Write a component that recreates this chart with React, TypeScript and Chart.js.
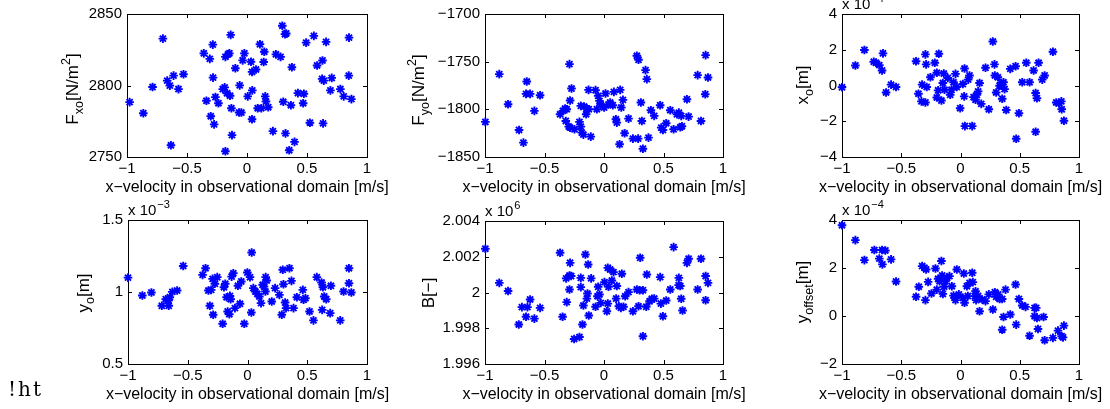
import React, { useEffect, useRef } from 'react';
import { Chart, registerables } from 'chart.js';

Chart.register(...registerables);

const SANS = '"Liberation Sans", Arial, Helvetica, sans-serif';
const BLUE = '#0000ff';

const X_TICKS = [-1, -0.5, 0, 0.5, 1];
const X_TITLE = 'x−velocity in observational domain [m/s]';

// Panel 1: F_xo [N/m^2]
const X_FXO = [-0.978, -0.864, -0.787, -0.701, -0.665, -0.643, -0.612, -0.634, -0.571, -0.529, -0.36, -0.338, -0.31, -0.302, -0.285, -0.283, -0.274, -0.263, -0.238, -0.202, -0.186, -0.18, -0.18, -0.166, -0.147, -0.141, -0.136, -0.13, -0.125, -0.097, -0.066, -0.061, -0.047, -0.036, -0.022, 0.006, 0.033, 0.042, 0.044, 0.042, 0.075, 0.089, 0.108, 0.119, 0.139, 0.144, 0.152, 0.158, 0.177, 0.216, 0.241, 0.28, 0.294, 0.302, 0.316, 0.327, 0.321, 0.352, 0.366, 0.374, 0.396, 0.424, 0.474, 0.468, 0.493, 0.524, 0.557, 0.584, 0.629, 0.634, 0.659, 0.626, 0.64, 0.695, 0.706, 0.778, 0.806, 0.85, 0.848, 0.87, -0.158];
const FXO = [2788.4, 2780.6, 2798.9, 2832.8, 2803.4, 2799.9, 2806.9, 2758.2, 2797.5, 2807.9, 2822.5, 2789.3, 2818.6, 2778.5, 2828.6, 2805.5, 2772.8, 2791.9, 2787.6, 2797.5, 2798.7, 2820.0, 2754.0, 2794.6, 2822.5, 2792.8, 2835.4, 2784.1, 2765.3, 2812.1, 2781.1, 2800.1, 2781.1, 2817.6, 2822.5, 2792.4, 2816.6, 2809.5, 2796.6, 2776.4, 2811.2, 2784.1, 2828.8, 2784.1, 2816.4, 2823.6, 2792.4, 2788.8, 2784.8, 2768.1, 2821.8, 2820.0, 2841.8, 2788.6, 2835.9, 2836.4, 2766.5, 2754.7, 2786.2, 2812.8, 2760.6, 2794.7, 2794.2, 2787.6, 2830.0, 2774.0, 2834.7, 2814.0, 2817.5, 2773.5, 2830.5, 2804.6, 2803.4, 2796.6, 2805.3, 2797.5, 2792.4, 2833.5, 2806.9, 2790.5, 2821.8];
const FXO_TICKS = [2750, 2800, 2850];

// Panel 2: F_yo [N/m^2]
const X_FYO = [-0.997, -0.88, -0.806, -0.714, -0.677, -0.649, -0.655, -0.621, -0.537, -0.585, -0.29, -0.273, -0.285, -0.369, -0.346, -0.327, -0.313, -0.321, -0.296, -0.285, -0.248, -0.206, -0.195, -0.187, -0.173, -0.195, -0.167, -0.144, -0.15, -0.128, -0.111, -0.13, -0.071, -0.049, -0.038, -0.06, -0.027, 0.001, 0.013, 0.038, 0.052, 0.074, 0.083, 0.1, 0.108, 0.131, 0.136, 0.145, 0.159, 0.173, 0.206, 0.243, 0.276, 0.29, 0.349, 0.36, 0.287, 0.31, 0.318, 0.327, 0.374, 0.394, 0.422, 0.472, 0.481, 0.495, 0.523, 0.557, 0.585, 0.613, 0.629, 0.641, 0.655, 0.649, 0.711, 0.697, 0.787, 0.815, 0.854, 0.851, 0.874];
const FYO = [-1813.2, -1763.1, -1794.6, -1821.6, -1834.9, -1770.8, -1783.8, -1783.8, -1785.2, -1801.6, -1752.6, -1778.2, -1790.8, -1805.2, -1801.6, -1799.2, -1799.9, -1812.2, -1818.1, -1819.2, -1820.9, -1813.2, -1818.1, -1824.4, -1826.5, -1796.4, -1797.1, -1799.2, -1805.2, -1799.9, -1828.6, -1779.6, -1779.9, -1785.9, -1791.1, -1799.9, -1795.0, -1798.1, -1783.4, -1795.0, -1792.9, -1795.7, -1781.7, -1810.4, -1813.9, -1836.7, -1779.6, -1798.1, -1790.1, -1825.1, -1809.7, -1830.7, -1743.8, -1748.0, -1758.9, -1768.3, -1830.7, -1792.9, -1812.2, -1841.3, -1829.7, -1800.9, -1806.9, -1795.7, -1819.2, -1821.6, -1814.6, -1800.9, -1820.9, -1805.2, -1803.5, -1818.8, -1817.7, -1806.9, -1807.6, -1789.4, -1764.1, -1812.2, -1743.1, -1784.1, -1766.6];
const FYO_TICKS = [-1850, -1800, -1750, -1700];

// Panel 3: x_o [m]  (scaled by 10^-4)
const X_XO = [-1.0, -0.887, -0.811, -0.732, -0.713, -0.685, -0.662, -0.654, -0.628, -0.586, -0.544, -0.375, -0.355, -0.324, -0.33, -0.296, -0.29, -0.285, -0.296, -0.254, -0.217, -0.2, -0.183, -0.2, -0.189, -0.161, -0.149, -0.141, -0.135, -0.107, -0.087, -0.076, -0.059, -0.042, -0.031, -0.003, 0.02, 0.031, 0.034, 0.037, 0.065, 0.076, 0.099, 0.11, 0.127, 0.138, 0.149, 0.161, 0.175, 0.211, 0.239, 0.273, 0.287, 0.29, 0.301, 0.315, 0.33, 0.344, 0.352, 0.363, 0.372, 0.386, 0.42, 0.465, 0.493, 0.47, 0.521, 0.555, 0.583, 0.617, 0.634, 0.645, 0.634, 0.659, 0.69, 0.71, 0.78, 0.808, 0.851, 0.854, 0.873, 0.831];
const XO = [-0.1, 1.12, 1.99, 1.33, 1.27, 1.14, 0.84, 1.8, -0.39, 0.05, -0.08, 1.36, -0.46, 0.05, -0.89, 1.74, 1.18, -0.08, -0.95, 0.46, 1.27, -0.67, 1.78, 0.71, -0.27, -0.84, 0.14, 0.67, -0.24, 0.42, -0.52, -0.24, 0.18, 0.65, -0.08, -1.27, 0.08, -0.61, 0.95, -2.27, 0.33, 0.56, -2.27, -0.65, -0.8, -0.52, -0.33, 0.14, -1.03, 0.99, -1.33, 2.46, 1.18, 0.56, -0.39, 0.46, -0.01, 0.14, -0.74, 0.18, -0.2, -1.37, 0.93, 1.08, -1.55, -2.98, 0.18, 1.27, 0.18, 0.84, -0.42, -0.71, -2.59, 1.27, 0.33, 0.56, 1.89, -0.95, -0.89, -1.33, -1.97, -0.99];
const XO_TICKS = [-4, -2, 0, 2, 4];
const XO_EXP = '−4';

// Panel 4: y_o [m]  (scaled by 10^-3)
const X_YO = [-1.0, -0.88, -0.804, -0.717, -0.684, -0.662, -0.659, -0.65, -0.629, -0.589, -0.538, -0.376, -0.351, -0.327, -0.315, -0.304, -0.287, -0.292, -0.273, -0.253, -0.208, -0.197, -0.186, -0.175, -0.166, -0.152, -0.147, -0.141, -0.133, -0.119, -0.105, -0.08, -0.063, -0.052, -0.027, -0.001, 0.021, 0.035, 0.032, 0.049, 0.066, 0.082, 0.099, 0.113, 0.127, 0.138, 0.152, 0.161, 0.15, 0.203, 0.231, 0.267, 0.287, 0.295, 0.301, 0.315, 0.323, 0.351, 0.368, 0.385, 0.413, 0.463, 0.469, 0.485, 0.519, 0.552, 0.58, 0.62, 0.631, 0.625, 0.642, 0.659, 0.698, 0.692, 0.776, 0.804, 0.849, 0.849, 0.869];
const YO = [1.1, 0.976, 0.997, 0.904, 0.95, 0.941, 0.904, 0.964, 1.001, 1.01, 1.181, 1.119, 1.165, 1.01, 0.904, 1.015, 0.842, 1.091, 1.057, 1.103, 0.779, 1.033, 1.057, 0.964, 0.865, 0.846, 0.973, 0.95, 1.107, 1.13, 0.888, 1.043, 0.918, 1.073, 0.779, 1.135, 1.103, 1.274, 0.858, 1.027, 1.003, 0.987, 0.969, 0.923, 1.05, 1.038, 1.103, 1.08, 1.003, 0.934, 1.027, 0.98, 0.842, 1.154, 1.054, 0.927, 0.888, 1.165, 1.077, 0.888, 0.964, 1.015, 0.946, 0.957, 0.865, 0.803, 1.103, 1.066, 1.033, 0.876, 0.969, 0.95, 1.043, 0.853, 0.803, 1.003, 1.165, 1.061, 0.997];
const YO_TICKS = [0.5, 1, 1.5];
const YO_EXP = '−3';

// Panel 5: B [-]  (scaled by 10^6)
const X_B = [-0.997, -0.88, -0.806, -0.716, -0.69, -0.655, -0.643, -0.621, -0.585, -0.537, -0.369, -0.348, -0.318, -0.313, -0.29, -0.285, -0.29, -0.276, -0.251, -0.206, -0.195, -0.195, -0.181, -0.173, -0.156, -0.144, -0.133, -0.139, -0.128, -0.108, -0.071, -0.055, -0.049, -0.038, -0.027, 0.004, 0.024, 0.032, 0.038, 0.032, 0.052, 0.066, 0.08, 0.108, 0.102, 0.125, 0.142, 0.15, 0.164, 0.178, 0.206, 0.243, 0.276, 0.29, 0.304, 0.299, 0.327, 0.327, 0.355, 0.36, 0.383, 0.402, 0.422, 0.472, 0.478, 0.495, 0.523, 0.557, 0.585, 0.629, 0.627, 0.641, 0.649, 0.66, 0.697, 0.711, 0.787, 0.815, 0.854, 0.854, 0.874];
const B = [2.00245, 2.00054, 2.00008, 1.99821, 1.99918, 1.99864, 1.99918, 1.99961, 1.99854, 1.99914, 2.00222, 1.99864, 2.00079, 1.99946, 2.00095, 2.00166, 2.00017, 2.00092, 1.9974, 1.99751, 2.00082, 2.0003, 1.99821, 1.99927, 2.00213, 1.99966, 2.00157, 1.99994, 1.99871, 2.00079, 1.9992, 1.99979, 2.00032, 1.99989, 1.99942, 2.00058, 1.99895, 2.00138, 2.00032, 1.99938, 2.00129, 2.00067, 2.00114, 2.00036, 1.99966, 1.99923, 1.99914, 2.00105, 1.9992, 1.99979, 2.00002, 1.99895, 2.00017, 1.99923, 2.00194, 2.00013, 2.00013, 1.99755, 1.9992, 2.00101, 1.99951, 1.99965, 1.99966, 2.00086, 1.99938, 1.99867, 1.99955, 2.00017, 2.00254, 2.00082, 2.00041, 2.00036, 1.99965, 1.99899, 2.00166, 2.00189, 2.00017, 2.00189, 2.00092, 1.99957, 2.00054];
const B_TICKS = [1.996, 1.998, 2, 2.002, 2.004];
const B_EXP = '6';

// Panel 6: y_offset [m]  (scaled by 10^-4)
const X_YOFF = [-1.0, -0.887, -0.811, -0.727, -0.685, -0.662, -0.634, -0.659, -0.586, -0.544, -0.375, -0.352, -0.324, -0.304, -0.29, -0.296, -0.273, -0.245, -0.211, -0.2, -0.189, -0.177, -0.161, -0.155, -0.149, -0.138, -0.127, -0.115, -0.093, -0.073, -0.059, -0.048, -0.042, -0.031, -0.014, 0.02, 0.028, 0.034, 0.054, 0.062, 0.076, 0.099, 0.104, 0.121, 0.127, 0.132, 0.149, 0.161, 0.183, 0.211, 0.239, 0.273, 0.29, 0.301, 0.318, 0.33, 0.352, 0.38, 0.363, 0.352, 0.42, 0.465, 0.47, 0.493, 0.521, 0.549, 0.583, 0.625, 0.639, 0.625, 0.645, 0.654, 0.701, 0.71, 0.78, 0.823, 0.854, 0.865, 0.873];
const YOFF = [3.78, 3.16, 2.33, 2.75, 2.39, 2.75, 2.73, 2.15, 2.36, 1.44, 0.8, 1.22, 2.08, 2.01, 1.94, 0.66, 1.42, 0.94, 1.98, 1.1, 1.55, 1.45, 2.29, 1.69, 0.92, 1.22, 1.45, 1.59, 1.66, 1.24, 0.85, 0.76, 0.66, 1.94, 0.9, 0.76, 1.77, 0.55, 1.24, 0.83, 1.38, 1.8, 1.41, 0.83, 1.03, 0.66, 0.83, 0.2, 0.69, 0.62, 0.9, 0.27, 0.99, 0.8, 0.9, 0.71, 0.71, 1.1, -0.04, -0.57, 0.06, 1.31, -0.36, 0.71, 0.44, 0.38, -0.82, 0.34, 0.34, -0.01, -0.08, -0.54, -0.04, -1.01, -0.91, -0.61, -0.84, -0.89, -0.4];
const YOFF_TICKS = [-2, 0, 2, 4];
const YOFF_EXP = '−4';

type Part = { t: string; k?: 'sub' | 'sup' };
type PanelDef = {
  xs: number[];
  ys: number[];
  yTicks: number[];
  label: Part[];
  exp: string | null;
  box: { L: number; T: number; R: number; B: number };
  labelDX: number;
  labelCY: number;
};

const PANELS: PanelDef[] = [
  { xs: X_FXO, ys: FXO, yTicks: FXO_TICKS, label: [{ t: 'F' }, { t: 'xo', k: 'sub' }, { t: '[N/m' }, { t: '2', k: 'sup' }, { t: ']' }], exp: null, box: { L: 127, T: 14, R: 367, B: 157 }, labelDX: 49, labelCY: 89 },
  { xs: X_FYO, ys: FYO, yTicks: FYO_TICKS, label: [{ t: 'F' }, { t: 'yo', k: 'sub' }, { t: '[N/m' }, { t: '2', k: 'sup' }, { t: ']' }], exp: null, box: { L: 485, T: 14, R: 723, B: 157 }, labelDX: 61, labelCY: 90 },
  { xs: X_XO, ys: XO, yTicks: XO_TICKS, label: [{ t: 'x' }, { t: 'o', k: 'sub' }, { t: '[m]' }], exp: XO_EXP, box: { L: 842, T: 14, R: 1079, B: 157 }, labelDX: 34, labelCY: 85 },
  { xs: X_YO, ys: YO, yTicks: YO_TICKS, label: [{ t: 'y' }, { t: 'o', k: 'sub' }, { t: '[m]' }], exp: YO_EXP, box: { L: 128, T: 220, R: 367, B: 364 }, labelDX: 39, labelCY: 293 },
  { xs: X_B, ys: B, yTicks: B_TICKS, label: [{ t: 'B[−]' }], exp: B_EXP, box: { L: 485, T: 221, R: 723, B: 364 }, labelDX: 51, labelCY: 293 },
  { xs: X_YOFF, ys: YOFF, yTicks: YOFF_TICKS, label: [{ t: 'y' }, { t: 'offset', k: 'sub' }, { t: '[m]' }], exp: YOFF_EXP, box: { L: 842, T: 220, R: 1079, B: 364 }, labelDX: 34, labelCY: 292 },
];

const PADL = 100;
const PADT = 20;
const PADR = 40;
const PADB = 46;
const TITLE_SIZE = 16;
const YLABEL_SIZE = 17;
const TICK_SIZE = 15;

const fmt = (v: number) => String(v).replace('-', '−');

function drawRotatedRich(ctx: CanvasRenderingContext2D, parts: Part[], x: number, cy: number, size: number) {
  const small = size * 0.74;
  const widths = parts.map((p) => {
    ctx.font = `${p.k ? small : size}px ${SANS}`;
    return ctx.measureText(p.t).width;
  });
  const total = widths.reduce((a, b) => a + b, 0);
  ctx.save();
  ctx.translate(x, cy);
  ctx.rotate(-Math.PI / 2);
  ctx.textAlign = 'left';
  ctx.textBaseline = 'alphabetic';
  ctx.fillStyle = '#000';
  let cx = -total / 2;
  parts.forEach((p, i) => {
    ctx.font = `${p.k ? small : size}px ${SANS}`;
    const dy = p.k === 'sub' ? size * 0.3 : p.k === 'sup' ? -size * 0.45 : 0;
    ctx.fillText(p.t, cx, dy);
    cx += widths[i];
  });
  ctx.restore();
}

function Panel({ p }: { p: PanelDef }) {
  const ref = useRef<HTMLCanvasElement | null>(null);
  const W = PADL + (p.box.R - p.box.L) + PADR;
  const H = PADT + (p.box.B - p.box.T) + PADB;
  const left = p.box.L - PADL;
  const top = p.box.T - PADT;

  useEffect(() => {
    if (!ref.current) return;
    const yMin = p.yTicks[0];
    const yMax = p.yTicks[p.yTicks.length - 1];
    const frame = {
      id: 'frame',
      beforeDatasetsDraw(chart: any) {
        const { ctx, chartArea: a, scales } = chart;
        ctx.save();
        ctx.strokeStyle = '#000';
        ctx.lineWidth = 1;
        ctx.strokeRect(a.left + 0.5, a.top + 0.5, a.right - a.left, a.bottom - a.top);
        const tl = 4;
        ctx.beginPath();
        X_TICKS.forEach((v) => {
          const px = Math.round(scales.x.getPixelForValue(v)) + 0.5;
          ctx.moveTo(px, a.bottom);
          ctx.lineTo(px, a.bottom - tl);
          ctx.moveTo(px, a.top);
          ctx.lineTo(px, a.top + tl);
        });
        p.yTicks.forEach((v) => {
          const py = Math.round(scales.y.getPixelForValue(v)) + 0.5;
          ctx.moveTo(a.left, py);
          ctx.lineTo(a.left + tl, py);
          ctx.moveTo(a.right, py);
          ctx.lineTo(a.right - tl, py);
        });
        ctx.stroke();
        ctx.restore();
      },
      afterDraw(chart: any) {
        const { ctx, chartArea: a } = chart;
        drawRotatedRich(ctx, p.label, a.left - p.labelDX, p.labelCY - top, YLABEL_SIZE);
        ctx.save();
        ctx.fillStyle = '#000';
        ctx.textAlign = 'center';
        ctx.textBaseline = 'alphabetic';
        ctx.font = `${TITLE_SIZE}px ${SANS}`;
        ctx.fillText(X_TITLE, (a.left + a.right) / 2, a.bottom + 35);
        ctx.restore();
        if (p.exp) {
          ctx.save();
          ctx.fillStyle = '#000';
          ctx.textAlign = 'left';
          ctx.textBaseline = 'alphabetic';
          ctx.font = `${TICK_SIZE}px ${SANS}`;
          const base = 'x 10';
          ctx.fillText(base, a.left, a.top - 5);
          const w = ctx.measureText(base).width;
          ctx.font = `${Math.round(TICK_SIZE * 0.75)}px ${SANS}`;
          ctx.fillText(p.exp, a.left + w + 1, a.top - 12);
          ctx.restore();
        }
      },
    };

    const chart = new Chart(ref.current, {
      type: 'scatter',
      data: {
        datasets: [
          {
            data: p.xs.map((x, i) => ({ x, y: p.ys[i] })),
            pointStyle: 'star',
            pointRadius: 4.3,
            pointHoverRadius: 4.3,
            pointBorderWidth: 1.9,
            borderColor: BLUE,
            backgroundColor: BLUE,
            pointBorderColor: BLUE,
            clip: false as any,
          } as any,
        ],
      },
      options: {
        animation: false,
        responsive: false,
        devicePixelRatio: 1,
        events: [],
        layout: { padding: { left: 0, top: PADT, right: PADR, bottom: 0 } },
        plugins: { legend: { display: false }, tooltip: { enabled: false } },
        scales: {
          x: {
            type: 'linear',
            min: -1,
            max: 1,
            grid: { display: false, drawTicks: false },
            border: { display: false },
            afterBuildTicks: (s: any) => {
              s.ticks = X_TICKS.map((v) => ({ value: v }));
            },
            afterFit: (s: any) => {
              s.height = PADB;
            },
            ticks: {
              color: '#000',
              font: { family: SANS, size: TICK_SIZE },
              padding: 3,
              maxRotation: 0,
              autoSkip: false,
              callback: (v: any) => fmt(Number(v)),
            },
          },
          y: {
            type: 'linear',
            min: yMin,
            max: yMax,
            grid: { display: false, drawTicks: false },
            border: { display: false },
            afterBuildTicks: (s: any) => {
              s.ticks = p.yTicks.map((v) => ({ value: v }));
            },
            afterFit: (s: any) => {
              s.width = PADL;
            },
            ticks: {
              color: '#000',
              font: { family: SANS, size: TICK_SIZE },
              padding: 5,
              autoSkip: false,
              callback: (v: any) => fmt(Number(v)),
            },
          },
        },
      } as any,
      plugins: [frame as any],
    });
    return () => chart.destroy();
  }, []);

  return (
    <canvas
      ref={ref}
      width={W}
      height={H}
      style={{ position: 'absolute', left, top, width: W, height: H }}
    />
  );
}

export default function App() {
  return (
    <div style={{ position: 'absolute', left: 0, top: 0, width: 1110, height: 409, overflow: 'hidden', background: '#fff' }}>
      {PANELS.map((p, i) => (
        <Panel key={i} p={p} />
      ))}
      <div
        style={{
          position: 'absolute',
          left: 8,
          top: 379,
          fontFamily: '"DejaVu Serif", "Liberation Serif", serif',
          fontSize: 20,
          letterSpacing: 2,
          lineHeight: '20px',
          color: '#000',
        }}
      >
        !ht
      </div>
    </div>
  );
}
